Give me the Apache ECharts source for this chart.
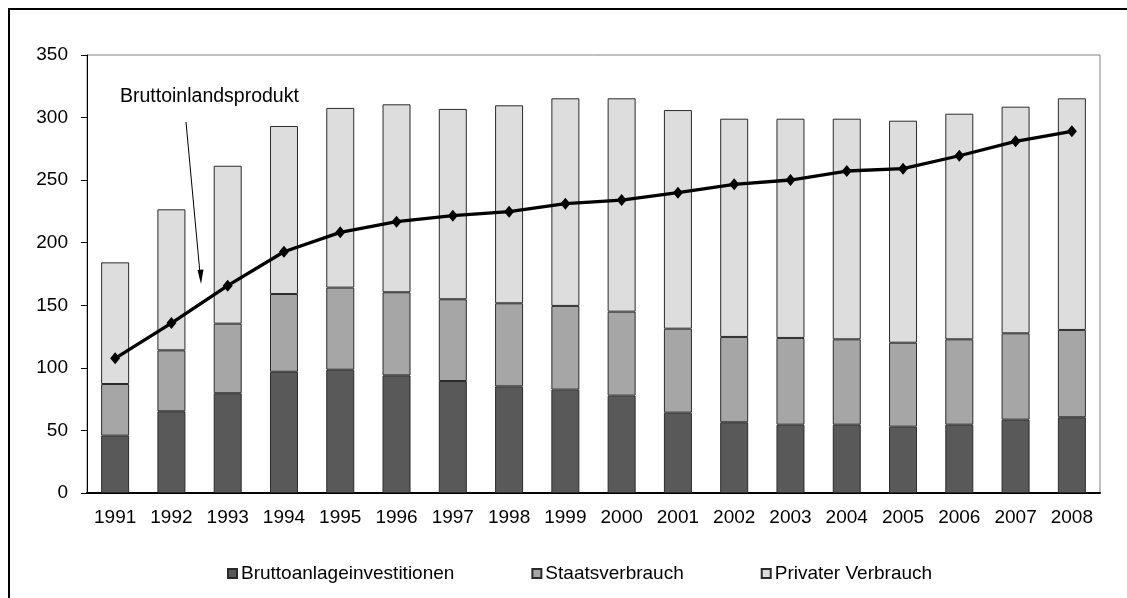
<!DOCTYPE html>
<html>
<head>
<meta charset="utf-8">
<script src="https://cdn.jsdelivr.net/npm/echarts@6/dist/echarts.min.js"></script>
<style>
html,body{margin:0;padding:0;background:#fff;}
#chart{width:1127px;height:598px;}
</style>
</head>
<body>
<div id="chart"></div>
<script>
var years = ['1991','1992','1993','1994','1995','1996','1997','1998','1999','2000','2001','2002','2003','2004','2005','2006','2007','2008'];
var bruttoanlage = [45.8, 65.3, 79.7, 96.9, 98.5, 94.0, 89.5, 85.2, 82.6, 77.8, 64.2, 56.5, 54.6, 54.6, 53.0, 54.6, 58.6, 60.5];
var staatsverbrauch = [41.3, 48.7, 55.6, 62.1, 65.6, 66.4, 65.3, 66.4, 66.9, 67.1, 67.1, 68.2, 69.3, 68.2, 67.1, 68.2, 69.0, 69.8];
var privaterVerbrauch = [97.2, 112.7, 126.2, 134.3, 143.6, 150.2, 152.1, 158.2, 165.9, 170.5, 174.7, 174.4, 175.2, 176.3, 177.4, 180.3, 181.1, 185.1];
var bip = [107.6, 135.8, 165.7, 192.8, 208.3, 216.8, 221.6, 224.8, 231.2, 234.1, 240.0, 246.7, 250.1, 257.3, 259.2, 269.5, 281.0, 289.0];
var yTicks = [0, 50, 100, 150, 200, 250, 300, 350];
var seriesNames = ['Bruttoanlageinvestitionen', 'Staatsverbrauch', 'Privater Verbrauch'];
var annotationText = 'Bruttoinlandsprodukt';

var FONT = '"Liberation Sans", Arial, sans-serif';
var chart = echarts.init(document.getElementById('chart'), null, {renderer: 'canvas'});

function barSeries(name, data, color) {
  return {
    name: name, type: 'bar', stack: 'total', data: data, barWidth: 28,
    itemStyle: {color: color, borderColor: '#2b2b2b', borderWidth: 1},
    emphasis: {disabled: true}
  };
}

var option = {
  animation: false,
  backgroundColor: '#fff',
  textStyle: {fontFamily: FONT},
  grid: {left: 87, right: 27, top: 55, bottom: 105, show: true, borderColor: '#808080', borderWidth: 1},
  legend: {
    data: seriesNames,
    left: 222, top: 559,
    itemWidth: 9, itemHeight: 9, itemGap: 77,
    icon: 'rect',
    textStyle: {fontFamily: FONT, fontSize: 19, color: '#000', padding: [0, 0, 0, -1]}
  },
  xAxis: {
    type: 'category', data: years,
    axisLine: {lineStyle: {color: '#000', width: 2}},
    axisTick: {show: false},
    axisLabel: {fontFamily: FONT, fontSize: 19, color: '#000', margin: 15}
  },
  yAxis: {
    type: 'value', min: yTicks[0], max: yTicks[yTicks.length - 1], interval: 50,
    axisLine: {show: true, lineStyle: {color: '#000', width: 1}},
    axisTick: {show: true, length: 6, lineStyle: {color: '#000'}},
    splitLine: {show: false},
    axisLabel: {fontFamily: FONT, fontSize: 19, color: '#000', margin: 19}
  },
  series: [
    barSeries(seriesNames[0], bruttoanlage, '#595959'),
    barSeries(seriesNames[1], staatsverbrauch, '#a6a6a6'),
    barSeries(seriesNames[2], privaterVerbrauch, '#dddddd'),
    {
      name: annotationText, type: 'line', data: bip, z: 5,
      lineStyle: {color: '#000', width: 3.3},
      itemStyle: {color: '#000'},
      symbol: 'diamond', symbolSize: [10, 12], showSymbol: true,
      emphasis: {disabled: true}
    }
  ],
  graphic: [
    {type: 'rect', shape: {x: 9, y: 9, width: 1130, height: 600}, style: {fill: 'none', stroke: '#000', lineWidth: 2}, silent: true},
    {type: 'text', x: 120, y: 97, style: {text: annotationText, fontFamily: FONT, fontSize: 19.5, fill: '#000', verticalAlign: 'middle', align: 'left'}, z: 10},
    {type: 'line', shape: {x1: 186, y1: 122, x2: 200.5, y2: 279}, style: {stroke: '#000', lineWidth: 1}, z: 10},
    {type: 'polygon', shape: {points: [[197.5, 270], [203.5, 269.5], [201, 284]]}, style: {fill: '#000'}, z: 10}
  ]
};
chart.setOption(option);
</script>
</body>
</html>
